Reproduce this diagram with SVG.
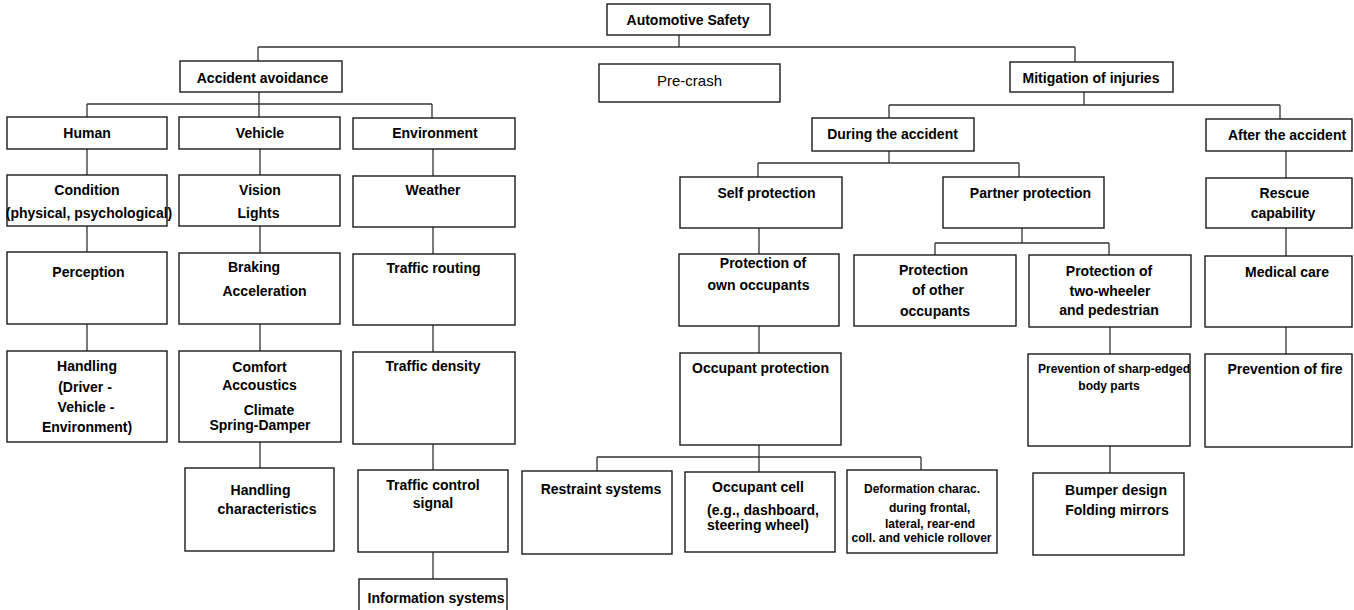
<svg xmlns="http://www.w3.org/2000/svg" width="1354" height="610" viewBox="0 0 1354 610">
<style>
.b{fill:#fff;stroke:#1a1a1a;stroke-width:1.4}
.c{fill:none;stroke:#333;stroke-width:1.3}
text{font-family:"Liberation Sans",Arial,sans-serif;font-size:14px;font-weight:bold;fill:#000;text-anchor:middle}
.r{font-weight:normal;font-size:15px}
.s{font-size:12px}
.l{text-anchor:start}
</style>
<rect width="1354" height="610" fill="#fff"/>
<g id="connectors">
<path class="c" d="M679,35V47M258,47H1075M258,47V61M1075,47V62"/>
<path class="c" d="M259,92V117M87,104H432M87,104V117M432,104V118"/>
<path class="c" d="M87,149V175M87,226V252M87,324V351"/>
<path class="c" d="M260,149V175M260,226V253M260,324V351M260,442V468"/>
<path class="c" d="M433,149V176M433,227V254M433,325V352M433,444V470M433,552V579"/>
<path class="c" d="M1084,92V105M889,105H1280M889,105V118M1280,105V119"/>
<path class="c" d="M889,151V163M758,163H1019M758,163V177M1019,163V177"/>
<path class="c" d="M1286,151V178M1286,228V256M1286,327V354"/>
<path class="c" d="M759,228V254M759,326V353M759,445V472M597,457H921M597,457V471M921,457V470"/>
<path class="c" d="M1022,228V243M935,243H1109M935,243V255M1109,243V255"/>
<path class="c" d="M1110,327V354M1110,446V473"/>
</g>
<g id="root"><rect class="b" x="607" y="4" width="163" height="31"/><text x="688" y="25">Automotive Safety</text></g>
<g id="avoid"><rect class="b" x="180" y="61" width="162" height="31"/><text x="262.5" y="83">Accident avoidance</text></g>
<g id="precrash"><rect class="b" x="599" y="64" width="181" height="38"/><text class="r" x="689.5" y="86">Pre-crash</text></g>
<g id="mitigation"><rect class="b" x="1010" y="62" width="163" height="30"/><text x="1091" y="83">Mitigation of injuries</text></g>
<g id="human"><rect class="b" x="7" y="117" width="160" height="32"/><text x="87" y="138">Human</text></g>
<g id="vehicle"><rect class="b" x="179" y="117" width="161" height="32"/><text x="260" y="138">Vehicle</text></g>
<g id="environment"><rect class="b" x="353" y="118" width="162" height="31"/><text x="435" y="138">Environment</text></g>
<g id="condition"><rect class="b" x="7" y="175" width="160" height="51"/><text x="87" y="195">Condition</text><text x="89" y="218">(physical, psychological)</text></g>
<g id="vision"><rect class="b" x="179" y="175" width="161" height="51"/><text x="260" y="195">Vision</text><text x="258.5" y="218">Lights</text></g>
<g id="weather"><rect class="b" x="353" y="176" width="162" height="51"/><text x="433" y="195">Weather</text></g>
<g id="perception"><rect class="b" x="7" y="252" width="160" height="72"/><text x="88.5" y="277">Perception</text></g>
<g id="braking"><rect class="b" x="179" y="253" width="161" height="71"/><text x="254" y="272">Braking</text><text x="264.5" y="296">Acceleration</text></g>
<g id="routing"><rect class="b" x="353" y="254" width="162" height="71"/><text x="433.5" y="273">Traffic routing</text></g>
<g id="handling"><rect class="b" x="7" y="351" width="160" height="91"/><text x="87" y="371">Handling</text><text x="85" y="392">(Driver -</text><text x="86" y="412">Vehicle -</text><text x="87" y="432">Environment)</text></g>
<g id="comfort"><rect class="b" x="179" y="351" width="162" height="91"/><text x="259.5" y="372">Comfort</text><text x="259.5" y="390">Accoustics</text><text x="269" y="415">Climate</text><text x="260" y="430">Spring-Damper</text></g>
<g id="density"><rect class="b" x="353" y="352" width="162" height="92"/><text x="433" y="371">Traffic density</text></g>
<g id="handlingchar"><rect class="b" x="185" y="468" width="149" height="83"/><text x="260.5" y="495">Handling</text><text x="267" y="514">characteristics</text></g>
<g id="control"><rect class="b" x="358" y="470" width="150" height="82"/><text x="433" y="490">Traffic control</text><text x="433" y="508">signal</text></g>
<g id="info"><rect class="b" x="359" y="579" width="148" height="40"/><text x="436" y="603">Information systems</text></g>
<g id="during"><rect class="b" x="812" y="118" width="162" height="33"/><text x="892.5" y="139">During the accident</text></g>
<g id="after"><rect class="b" x="1206" y="119" width="146" height="32"/><text x="1287" y="140">After the accident</text></g>
<g id="self"><rect class="b" x="680" y="177" width="162" height="51"/><text x="766.5" y="198">Self protection</text></g>
<g id="partner"><rect class="b" x="943" y="177" width="161" height="51"/><text x="1030.5" y="198">Partner protection</text></g>
<g id="rescue"><rect class="b" x="1206" y="178" width="146" height="50"/><text x="1284.5" y="198">Rescue</text><text x="1283" y="218">capability</text></g>
<g id="ownocc"><rect class="b" x="679" y="254" width="160" height="72"/><text x="763" y="268">Protection of</text><text x="758.5" y="290">own occupants</text></g>
<g id="otherocc"><rect class="b" x="854" y="255" width="162" height="71"/><text x="933.5" y="275">Protection</text><text x="938" y="295">of other</text><text x="935" y="316">occupants</text></g>
<g id="twowheel"><rect class="b" x="1029" y="255" width="162" height="72"/><text x="1109" y="276">Protection of</text><text x="1110" y="296">two-wheeler</text><text x="1109" y="315">and pedestrian</text></g>
<g id="medical"><rect class="b" x="1205" y="256" width="147" height="71"/><text x="1287" y="277">Medical care</text></g>
<g id="occprot"><rect class="b" x="680" y="353" width="161" height="92"/><text x="760.5" y="373">Occupant protection</text></g>
<g id="sharp"><rect class="b" x="1028" y="354" width="162" height="92"/><text class="s" x="1114" y="373">Prevention of sharp-edged</text><text class="s" x="1109" y="390">body parts</text></g>
<g id="fire"><rect class="b" x="1205" y="354" width="147" height="93"/><text x="1285" y="374">Prevention of fire</text></g>
<g id="restraint"><rect class="b" x="522" y="471" width="150" height="83"/><text x="601" y="494">Restraint systems</text></g>
<g id="occcell"><rect class="b" x="685" y="472" width="150" height="80"/><text x="758" y="492">Occupant cell</text><text class="l" x="707" y="515">(e.g., dashboard,</text><text class="l" x="707" y="530">steering wheel)</text></g>
<g id="deform"><rect class="b" x="847" y="470" width="150" height="83"/><text class="s" x="922" y="493">Deformation charac.</text><text class="s l" x="889" y="512">during frontal,</text><text class="s l" x="885" y="528">lateral, rear-end</text><text class="s" x="921.5" y="542">coll. and vehicle rollover</text></g>
<g id="bumper"><rect class="b" x="1033" y="473" width="151" height="82"/><text x="1116" y="495">Bumper design</text><text x="1117" y="515">Folding mirrors</text></g>
</svg>
